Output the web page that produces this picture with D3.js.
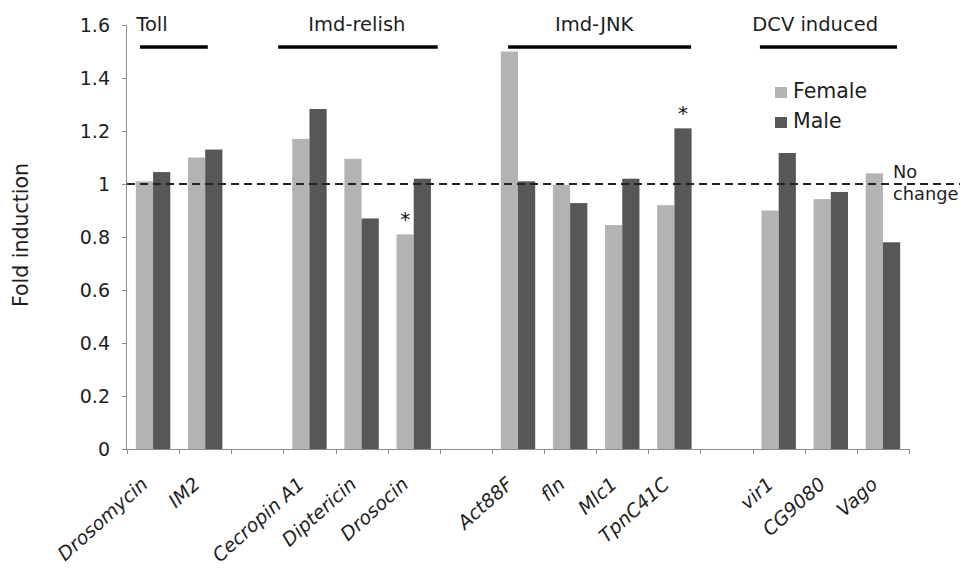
<!DOCTYPE html>
<html>
<head>
<meta charset="utf-8">
<script src="https://cdn.jsdelivr.net/npm/d3@7"></script>
<style>
  html, body { margin: 0; padding: 0; background: #fff; }
  svg { display: block; font-family: "DejaVu Sans", Verdana, sans-serif; }
</style>
</head>
<body>
<svg id="chart" width="960" height="570"></svg>
<script>
// ---- data ----
const categories = ["Drosomycin", "IM2", "", "Cecropin A1", "Diptericin", "Drosocin", "",
                    "Act88F", "fln", "Mlc1", "TpnC41C", "", "vir1", "CG9080", "Vago"];
const female = [1.01, 1.10, null, 1.17, 1.095, 0.81, null, 1.50, 0.997, 0.845, 0.92, null, 0.90, 0.943, 1.04];
const male   = [1.045, 1.13, null, 1.283, 0.87, 1.02, null, 1.01, 0.928, 1.02, 1.21, null, 1.117, 0.97, 0.78];
const seriesNames = ["Female", "Male"];
const yTicks = [0, 0.2, 0.4, 0.6, 0.8, 1, 1.2, 1.4, 1.6];
const yTickLabels = ["0", "0.2", "0.4", "0.6", "0.8", "1", "1.2", "1.4", "1.6"];
// significance markers: [category index, series index]
const stars = [[5, 0], [10, 1]];
// group annotations: label, span start / end and label centre in category units
const groupNames = ["Toll", "Imd-relish", "Imd-JNK", "DCV induced"];
const groupStart = [0.25, 2.9, 7.31, 12.14];
const groupEnd   = [1.55, 5.96, 10.82, 14.77];
const groupLabelAt = [0.48, 4.41, 8.96, 13.2];
const referenceValue = 1;
const referenceLabel = ["No", "change"];

// ---- layout ----
const svg = d3.select("#chart");
const pLeft = 127, pRight = 909, pTop = 25, pBottom = 449;
const colors = ["#b3b3b3", "#575757"];
const axisColor = "#8c8c8c";
const ink = "#1e1e1e";

const x = d3.scaleBand().domain(d3.range(categories.length))
  .range([pLeft, pRight]).paddingInner(0.34).paddingOuter(0.17);
const xs = d3.scaleBand().domain([0, 1]).range([0, x.bandwidth()]).padding(0);
const y = d3.scaleLinear().domain([0, 1.6]).range([pBottom, pTop]);
const slot = d3.scaleLinear().domain([0, categories.length]).range([pLeft, pRight]);

// bars
const barData = [];
categories.forEach((c, i) => {
  [female[i], male[i]].forEach((v, s) => {
    if (v != null) barData.push({ i, s, v });
  });
});
svg.append("g").selectAll("rect").data(barData).join("rect")
  .attr("x", d => x(d.i) + xs(d.s))
  .attr("width", xs.bandwidth())
  .attr("y", d => y(d.v))
  .attr("height", d => y(0) - y(d.v))
  .attr("fill", d => colors[d.s]);

// y axis
const yAxis = d3.axisLeft(y).tickValues(yTicks)
  .tickFormat((d, k) => yTickLabels[k]).tickSize(5).tickPadding(12);
const gy = svg.append("g").attr("transform", `translate(${pLeft},0)`).call(yAxis);
gy.select(".domain").attr("stroke", axisColor).attr("d", `M-0.5,${pTop}V${pBottom}`);
gy.selectAll(".tick line").attr("stroke", axisColor);
gy.selectAll(".tick text").attr("font-size", 19).attr("fill", ink)
  .attr("font-family", "DejaVu Sans, sans-serif");

// x axis baseline + boundary ticks
const gx = svg.append("g");
gx.append("line").attr("x1", pLeft).attr("x2", pRight)
  .attr("y1", pBottom + 0.5).attr("y2", pBottom + 0.5).attr("stroke", axisColor);
gx.selectAll("line.t").data(d3.range(categories.length + 1)).join("line")
  .attr("class", "t")
  .attr("x1", d => Math.round(slot(d)) + 0.5).attr("x2", d => Math.round(slot(d)) + 0.5)
  .attr("y1", pBottom).attr("y2", pBottom + 5).attr("stroke", axisColor);

// x labels
gx.selectAll("text.lab").data(categories.map((c, i) => ({ c, i })).filter(d => d.c))
  .join("text").attr("class", "lab")
  .attr("transform", d => `translate(${x(d.i) + x.bandwidth() / 2 - 4},${pBottom + 37}) rotate(-42)`)
  .attr("text-anchor", "end")
  .attr("font-size", 19).attr("font-style", "italic").attr("fill", ink)
  .text(d => d.c);

// y title
svg.append("text")
  .attr("transform", `translate(28,235) rotate(-90)`)
  .attr("text-anchor", "middle").attr("font-size", 20.5).attr("fill", ink)
  .text("Fold induction");

// reference dashed line
svg.append("line")
  .attr("x1", pLeft).attr("x2", 960)
  .attr("y1", y(referenceValue)).attr("y2", y(referenceValue))
  .attr("stroke", "#222").attr("stroke-width", 2).attr("stroke-dasharray", "8,5");
svg.append("g").selectAll("text").data(referenceLabel).join("text")
  .attr("x", 893).attr("y", (d, k) => y(referenceValue) - 6 + k * 22)
  .attr("font-size", 17.8).attr("fill", ink).text(d => d);

// group annotations
const gg = svg.append("g");
groupNames.forEach((g, k) => {
  gg.append("line")
    .attr("x1", slot(groupStart[k])).attr("x2", slot(groupEnd[k]))
    .attr("y1", 47).attr("y2", 47).attr("stroke", "#000").attr("stroke-width", 3.5);
  gg.append("text").attr("x", slot(groupLabelAt[k])).attr("y", 31)
    .attr("text-anchor", "middle").attr("font-size", 19.5).attr("fill", ink).text(g);
});

// significance stars
svg.append("g").selectAll("text").data(stars).join("text")
  .attr("x", d => x(d[0]) + xs(d[1]) + xs.bandwidth() / 2)
  .attr("y", d => y((d[1] === 0 ? female : male)[d[0]]) - 8)
  .attr("text-anchor", "middle").attr("font-size", 20).attr("fill", "#111")
  .text("*");

// legend
const lg = svg.append("g").attr("transform", "translate(775,86)");
seriesNames.forEach((n, k) => {
  lg.append("rect").attr("x", 0).attr("y", k * 30 + 1).attr("width", 12).attr("height", 11)
    .attr("fill", colors[k]);
  lg.append("text").attr("x", 18).attr("y", k * 30 + 12).attr("font-size", 20.5)
    .attr("fill", ink).text(n);
});
</script>
</body>
</html>
